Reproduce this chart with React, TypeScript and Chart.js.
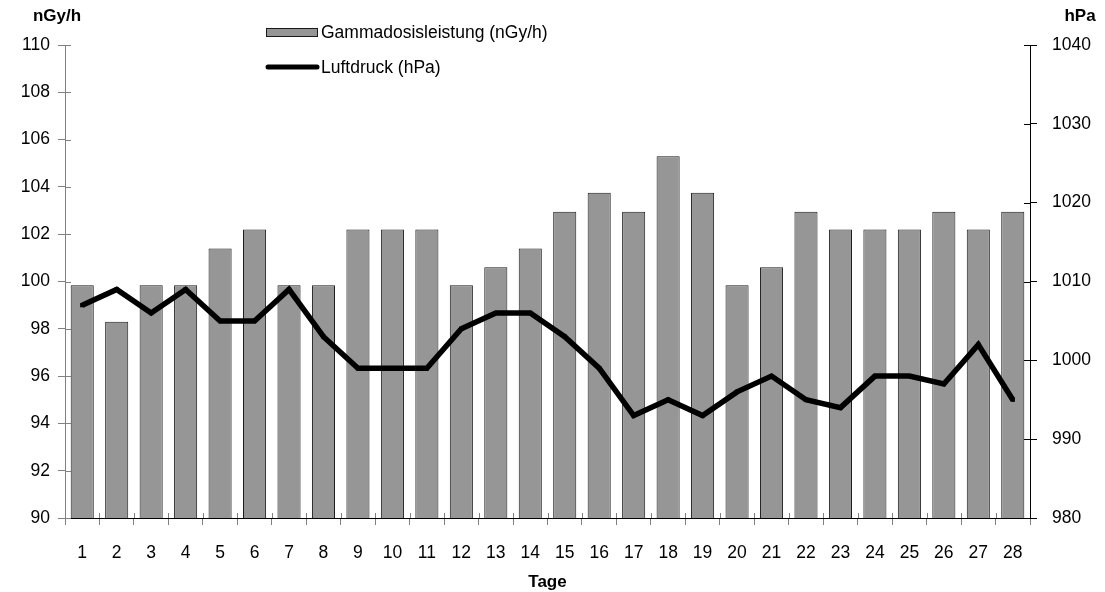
import React, { useEffect, useRef } from "react";
import { Chart, registerables } from "chart.js";

Chart.register(...registerables);

const days = ["1","2","3","4","5","6","7","8","9","10","11","12","13","14","15","16","17","18","19","20","21","22","23","24","25","26","27","28"];
const gammaDose = [99.84, 98.3, 99.84, 99.84, 101.4, 102.2, 99.84, 99.84, 102.2, 102.2, 102.2, 99.84, 100.6, 101.4, 102.95, 103.75, 102.95, 105.3, 103.75, 99.84, 100.6, 102.95, 102.2, 102.2, 102.2, 102.95, 102.2, 102.95];
const airPressure = [1007, 1009, 1006, 1009, 1005, 1005, 1009, 1003, 999, 999, 999, 1004, 1006, 1006, 1003, 999, 993, 995, 993, 996, 998, 995, 994, 998, 998, 997, 1002, 995];

const FONT = "'Liberation Sans', Arial, sans-serif";

const overlayPlugin = {
  id: "overlay",
  afterDraw(chart: any) {
    const ctx = chart.ctx;
    const area = chart.chartArea;
    const y = chart.scales.y;
    const y1 = chart.scales.y1;
    ctx.save();
    // inward tick stubs
    ctx.lineWidth = 1;
    ctx.strokeStyle = "#808080";
    y.ticks.forEach((_t: any, i: number) => {
      const py = Math.round(y.getPixelForTick(i)) + 0.5;
      ctx.beginPath();
      ctx.moveTo(area.left, py);
      ctx.lineTo(area.left + 6, py);
      ctx.stroke();
    });
    ctx.strokeStyle = "#000";
    y1.ticks.forEach((_t: any, i: number) => {
      const py = Math.round(y1.getPixelForTick(i)) + 0.5;
      ctx.beginPath();
      ctx.moveTo(area.right - 6, py);
      ctx.lineTo(area.right, py);
      ctx.stroke();
    });
    const n = days.length;
    ctx.strokeStyle = "#808080";
    for (let i = 1; i < n; i++) {
      const px = Math.round(area.left + (i * (area.right - area.left)) / n) + 0.5;
      ctx.beginPath();
      ctx.moveTo(px, area.bottom - 5);
      ctx.lineTo(px, area.bottom);
      ctx.stroke();
    }
    // axis titles
    ctx.fillStyle = "#000";
    ctx.font = `bold 17px ${FONT}`;
    ctx.textBaseline = "middle";
    ctx.textAlign = "center";
    ctx.fillText("nGy/h", 57, 16);
    ctx.fillText("hPa", 1080, 16);
    ctx.fillText("Tage", (area.left + area.right) / 2, 582);
    // legend
    ctx.fillStyle = "#969696";
    ctx.strokeStyle = "#1a1a1a";
    ctx.lineWidth = 1;
    ctx.fillRect(266.5, 28.5, 51, 8);
    ctx.strokeRect(266.5, 28.5, 51, 8);
    ctx.strokeStyle = "#000";
    ctx.lineWidth = 5;
    ctx.lineCap = "round";
    ctx.beginPath();
    ctx.moveTo(268, 67);
    ctx.lineTo(317, 67);
    ctx.stroke();
    ctx.fillStyle = "#000";
    ctx.font = `17.5px ${FONT}`;
    ctx.textAlign = "left";
    ctx.fillText("Gammadosisleistung (nGy/h)", 321, 33);
    ctx.fillText("Luftdruck (hPa)", 321, 68);
    ctx.restore();
  },
};

export default function App() {
  const ref = useRef<HTMLCanvasElement>(null);
  useEffect(() => {
    document.body.style.margin = "0";
    const chart = new Chart(ref.current as HTMLCanvasElement, {
      type: "bar",
      data: {
        labels: days,
        datasets: [
          {
            type: "line",
            label: "Luftdruck (hPa)",
            data: airPressure,
            yAxisID: "y1",
            borderColor: "#000",
            backgroundColor: "#000",
            borderWidth: 5.5,
            pointStyle: "rect",
            pointRadius: 3,
            pointBorderWidth: 0,
            tension: 0,
            order: 0,
          } as any,
          {
            type: "bar",
            label: "Gammadosisleistung (nGy/h)",
            data: gammaDose,
            yAxisID: "y",
            backgroundColor: "#969696",
            borderColor: "#1a1a1a",
            borderWidth: 1,
            borderSkipped: false,
            barPercentage: 0.67,
            categoryPercentage: 1,
            order: 1,
          } as any,
        ],
      },
      options: {
        responsive: false,
        animation: false,
        layout: { padding: { top: 45, left: 0, right: 0, bottom: 0 } },
        plugins: { legend: { display: false }, tooltip: { enabled: false } },
        scales: {
          x: {
            offset: true,
            grid: { drawOnChartArea: false, color: "#808080", tickLength: 7, offset: true },
            border: { color: "#000", width: 1 },
            ticks: { color: "#000", font: { family: FONT, size: 17.5 }, padding: 18, maxRotation: 0, autoSkip: false },
            afterFit: (s: any) => { s.height = 74; },
          },
          y: {
            position: "left",
            min: 90,
            max: 110,
            ticks: { stepSize: 2, color: "#000", font: { family: FONT, size: 17.5 }, padding: 8, callback: (v: any) => String(v) },
            grid: { drawOnChartArea: false, color: "#808080", tickLength: 7 },
            border: { color: "#808080", width: 1 },
            afterFit: (s: any) => { s.width = 65; },
          },
          y1: {
            position: "right",
            min: 980,
            max: 1040,
            ticks: { stepSize: 10, color: "#000", font: { family: FONT, size: 17.5 }, padding: 15, callback: (v: any) => String(v) },
            grid: { drawOnChartArea: false, color: "#000", tickLength: 7 },
            border: { color: "#000", width: 1 },
            afterFit: (s: any) => { s.width = 75; },
          },
        },
      },
      plugins: [overlayPlugin],
    });
    return () => chart.destroy();
  }, []);
  return <canvas ref={ref} width={1105} height={592} style={{ display: "block" }} />;
}
